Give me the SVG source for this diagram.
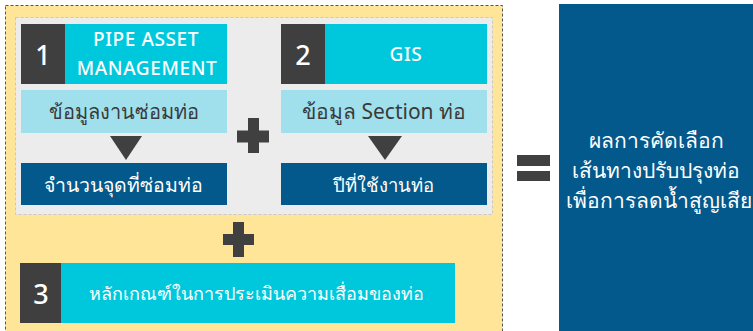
<svg xmlns="http://www.w3.org/2000/svg" width="753" height="331" viewBox="0 0 753 331">
<style>
.t{font-family:"Noto Sans","DejaVu Sans",sans-serif;text-anchor:middle;dominant-baseline:central}
.n{font-size:27px;font-weight:500}
.e{font-size:19px;font-weight:500;letter-spacing:0.6px}
.w{fill:#ffffff}
.d{fill:#3a3a3a}
.num{fill:#3f3f3f}
.cy{fill:#00c8dc}
.lb{fill:#a0e0ed}
.db{fill:#03598b}
</style>
<rect x="0" y="0" width="753" height="331" fill="#ffffff"/>
<g id="outer">
<rect x="5.5" y="5.5" width="497" height="340" fill="#fee597" stroke="#555" stroke-width="1" stroke-dasharray="3,2"/>
</g>
<g id="inner">
<rect x="15.5" y="17.5" width="477" height="197" fill="#ececec" stroke="#c8c8c8" stroke-width="1" stroke-dasharray="3,2"/>
</g>
<g id="node1">
<rect class="num" x="21" y="24" width="44" height="60"/>
<rect class="cy" x="65" y="24" width="162" height="60"/>
<text class="t w n" x="43" y="54">1</text>
<text class="t w e" x="146" y="39">PIPE ASSET</text>
<text class="t w e" x="147" y="68">MANAGEMENT</text>
</g>
<g id="node1a">
<rect class="lb" x="21" y="90" width="206" height="43"/>
<text class="t d" x="124" y="111" font-size="20">ข้อมูลงานซ่อมท่อ</text>
</g>
<g id="node1b">
<rect class="db" x="21" y="163" width="206" height="42"/>
<text class="t w" x="123" y="184" font-size="19.5">จำนวนจุดที่ซ่อมท่อ</text>
</g>
<g id="node2">
<rect class="num" x="281" y="24" width="44" height="60"/>
<rect class="cy" x="325" y="24" width="162" height="60"/>
<text class="t w n" x="303" y="54">2</text>
<text class="t w e" x="406" y="54">GIS</text>
</g>
<g id="node2a">
<rect class="lb" x="281" y="90" width="206" height="43"/>
<text class="t d" x="384" y="111" font-size="21">ข้อมูล Section ท่อ</text>
</g>
<g id="node2b">
<rect class="db" x="281" y="163" width="206" height="42"/>
<text class="t w" x="383" y="184" font-size="18.5">ปีที่ใช้งานท่อ</text>
</g>
<g id="node3">
<rect class="num" x="20" y="263" width="41" height="60"/>
<rect class="cy" x="61" y="263" width="394" height="60"/>
<text class="t w n" x="41" y="293">3</text>
<text class="t w" x="256" y="293" font-size="18">หลักเกณฑ์ในการประเมินความเสื่อมของท่อ</text>
</g>
<g id="result">
<rect class="db" x="559" y="4" width="194" height="327"/>
<text class="t w" x="656" y="140" font-size="21">ผลการคัดเลือก</text>
<text class="t w" x="656" y="170" font-size="21">เส้นทางปรับปรุงท่อ</text>
<text class="t w" x="659" y="200" font-size="21">เพื่อการลดน้ำสูญเสีย</text>
</g>
<g id="connectors" fill="#404040">
<polygon points="110,136 142,136 126,160"/>
<polygon points="368,136 402,136 385,160"/>
<path d="M248 118h11v12.5h10v12h-10v10.5h-11v-10.5h-11v-12h11z"/>
<path d="M233 222h11v12h10v11h-10v12h-11v-12h-10v-11h10z"/>
<rect x="517" y="155" width="33" height="11"/>
<rect x="517" y="171" width="33" height="10"/>
</g>
</svg>
